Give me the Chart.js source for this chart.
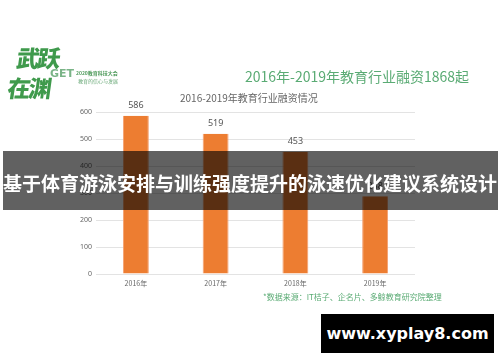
<!DOCTYPE html>
<html><head><meta charset="utf-8">
<script src="https://cdn.jsdelivr.net/npm/chart.js@4"></script>
<style>
html,body{margin:0;padding:0;background:#fff;}
#wrap{position:relative;width:500px;height:362px;overflow:hidden;font-family:"Noto Sans CJK SC","Noto Sans",sans-serif;}
canvas{position:absolute;left:0;top:0;}
.abs{position:absolute;white-space:nowrap;}
</style></head><body>
<div id="wrap">
<canvas id="c" width="500" height="362"></canvas>
<div class="abs" style="left:17px;top:40px;font-size:23px;font-weight:900;color:#3f9a4c;transform:skewX(-8deg);letter-spacing:-2px;">武跃</div>
<div class="abs" style="left:8px;top:70px;font-size:23px;font-weight:900;color:#3f9a4c;transform:skewX(-8deg);letter-spacing:-2px;">在渊</div>
<div class="abs" style="left:50px;top:67px;font-size:11px;font-weight:900;color:#7ab487;font-family:'DejaVu Sans';">GET</div>
<div class="abs" style="left:76px;top:69px;font-size:5px;font-weight:bold;color:#4d9a5a;">2020教育科技大会</div>
<div class="abs" style="left:78px;top:77px;font-size:5px;color:#6aa978;">教育的信心与发展</div>
<div class="abs" style="left:245px;top:66px;font-size:14px;color:#5aab74;">2016年-2019年教育行业融资1868起</div>
<div class="abs" style="left:180px;top:90px;font-size:10px;color:#666;">2016-2019年教育行业融资情况</div>
<div class="abs" style="left:263px;top:291px;font-size:8px;color:#5aab74;">*数据来源：IT桔子、企名片、多鲸教育研究院整理</div>
<div class="abs" style="left:3px;top:151px;width:495px;height:59px;background:rgba(0,0,0,0.62);"></div>
<div class="abs" style="left:0;top:169px;width:500px;text-align:center;font-size:19px;font-weight:bold;color:#fff;">基于体育游泳安排与训练强度提升的泳速优化建议系统设计</div>
<div class="abs" style="left:321px;top:314px;width:173px;height:39px;background:#000;color:#fff;font-size:16px;font-weight:bold;line-height:39px;text-align:center;font-family:'DejaVu Sans',sans-serif;">www.xyplay8.com</div>
</div>
<script>
const categories = ["2016年","2017年","2018年","2019年"];
const values = [586, 519, 453, 288];
const yTicks = [0,100,200,300,400,500,600];

const labelPlugin = {
  id:'vlabels',
  afterDatasetsDraw(chart){
    const ctx = chart.ctx;
    const meta = chart.getDatasetMeta(0);
    ctx.save();
    ctx.font = '9px "Noto Sans","DejaVu Sans",sans-serif';
    ctx.fillStyle = '#555';
    ctx.textAlign = 'center';
    ctx.textBaseline = 'middle';
    meta.data.forEach((bar,i)=>{ ctx.fillText(String(values[i]), bar.x, bar.y - 10); });
    ctx.restore();
  }
};

new Chart(document.getElementById('c'), {
  type:'bar',
  data:{labels:categories, datasets:[{data:values, backgroundColor:'#ED7D31', borderColor:'#f4a070', borderWidth:{left:1,right:1,top:0,bottom:0}, categoryPercentage:1, barPercentage:0.325}]},
  options:{
    responsive:false, animation:false,
    layout:{padding:{left:0,top:112,right:85,bottom:0}},
    plugins:{legend:{display:false}, tooltip:{enabled:false}},
    scales:{
      x:{grid:{display:false}, border:{display:false},
         ticks:{color:'#666', font:{size:7, family:'"Noto Sans CJK SC"'}, padding:-3},
         afterFit(s){ s.height = 88; }},
      y:{min:0,max:600, afterBuildTicks(s){ s.ticks = yTicks.map(v=>({value:v})); },
         grid:{color:'#e3e3e3', drawTicks:false}, border:{display:false},
         ticks:{color:'#666', font:{size:7, family:'"Noto Sans"'}, padding:4},
         afterFit(s){ s.width = 96; }}
    }
  },
  plugins:[labelPlugin]
});
</script>
</body></html>
